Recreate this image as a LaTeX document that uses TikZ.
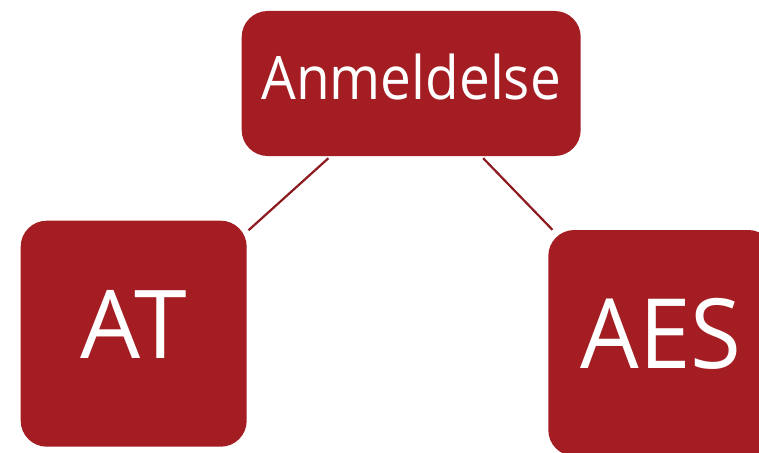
\documentclass[tikz,border=0pt]{standalone}
\usepackage{fontspec}
\setmainfont{Open Sans}
\definecolor{boxred}{HTML}{A31D22}
\definecolor{linered}{HTML}{8C1A1E}
\begin{document}
\begin{tikzpicture}[x=1pt,y=-1pt,
  box/.style={draw=none, fill=boxred, text=white, rounded corners=26pt, inner sep=0pt, align=center},
  conn/.style={draw=linered, line width=2.2pt}]
\useasboundingbox (0,0) rectangle (759,452);
\clip (0,0) rectangle (759,452);
\node[box, minimum width=339pt, minimum height=145pt, font=\fontsize{60}{60}\selectfont\addfontfeature{FakeStretch=0.915}, text height=31.6pt, text depth=0pt] (top) at (411.2,83.5) {Anmeldelse};
\node[box, minimum width=226pt, minimum height=226pt, font=\fontsize{95}{95}\selectfont, text height=49pt, text depth=0pt] (at) at (133.7,333.7) {AT};
\node[box, minimum width=226pt, minimum height=226pt, font=\fontsize{97}{97}\selectfont\addfontfeature{FakeStretch=0.955}, text height=50.6pt, text depth=0pt] (aes) at (661.3,343) {AES};
\draw[conn, shorten <=3pt, shorten >=2.2pt] (top) -- (at);
\draw[conn, shorten <=2.8pt, shorten >=0pt] (top) -- (aes);
\end{tikzpicture}
\end{document}
